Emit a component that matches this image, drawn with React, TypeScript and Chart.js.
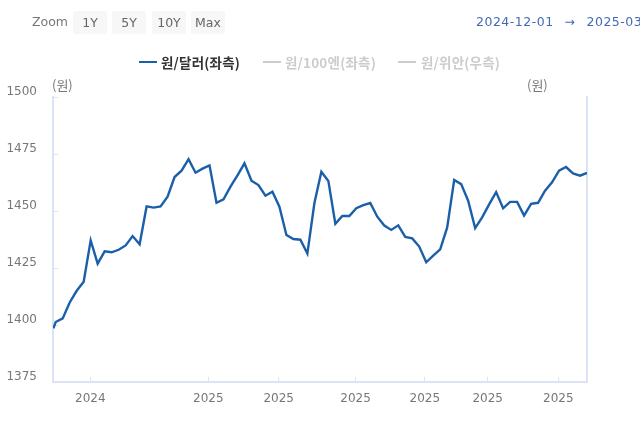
import { useEffect, useRef } from "react";
import Chart from "chart.js/auto";

const rangeButtons = ["1Y", "5Y", "10Y", "Max"];
const usdValues = [
  1398.5, 1401.3, 1402.9, 1409.9, 1415.0, 1419.0, 1437.1, 1426.9, 1432.3, 1431.9,
  1433.0, 1434.9, 1439.0, 1435.4, 1452.0, 1451.5, 1452.0, 1456.3, 1464.9, 1467.7,
  1472.7, 1466.8, 1468.6, 1470.0, 1453.6, 1455.1, 1460.7, 1465.6, 1470.9, 1463.3,
  1461.4, 1456.7, 1458.5, 1451.9, 1439.5, 1437.7, 1437.4, 1431.3, 1453.4, 1467.2,
  1463.2, 1444.4, 1447.8, 1447.8, 1451.2, 1452.6, 1453.5, 1447.5, 1443.6, 1441.7,
  1443.7, 1438.6, 1438.0, 1434.4, 1427.5, 1430.4, 1433.2, 1442.8, 1463.6, 1461.8,
  1454.5, 1442.5, 1447.2, 1452.9, 1458.3, 1451.2, 1454.0, 1454.0, 1448.0, 1453.1,
  1453.6, 1458.9, 1462.6, 1467.7, 1469.3, 1466.5, 1465.5, 1466.7,
];
// the first sample sits just under one step before the second one
const usdPositions = usdValues.map((_, i) => (i === 0 ? -0.34 : i - 1));
const xTickValues = [4.95, 21.83, 31.9, 42.9, 52.8, 61.8, 71.9];
const xTickLabels = ["2024", "2025", "2025", "2025", "2025", "2025", "2025"];

const LINE_BLUE = "#1b5fa9";
const AXIS_BLUE = "#dbe4f4";
const MUTED = "#cccccc";
const TEXT = "#777777";
const LATIN = '"DejaVu Sans", sans-serif';
const KOREAN = '"Noto Sans CJK KR", sans-serif';

const legendItems = [
  { label: "원/달러(좌측)", color: LINE_BLUE, text: "#333333", line: 139, left: 161 },
  { label: "원/100엔(좌측)", color: MUTED, text: MUTED, line: 263, left: 285 },
  { label: "원/위안(우측)", color: MUTED, text: MUTED, line: 398, left: 421 },
];

export default function App() {
  const canvasRef = useRef<HTMLCanvasElement | null>(null);

  useEffect(() => {
    const canvas = canvasRef.current;
    if (!canvas) return;

    const chart = new Chart(canvas, {
      type: "line",
      data: {
        datasets: [
          {
            label: "원/달러(좌측)",
            data: usdValues.map((y, i) => ({ x: usdPositions[i], y })),
            borderColor: LINE_BLUE,
            borderWidth: 2.4,
            pointRadius: 0,
            tension: 0,
          },
        ],
      },
      options: {
        animation: false,
        responsive: false,
        layout: { padding: { top: 97, right: 53, left: 0, bottom: 0 } },
        plugins: { legend: { display: false }, tooltip: { enabled: false } },
        scales: {
          x: {
            type: "linear",
            min: -0.39,
            max: 76,
            afterFit: (axis) => {
              axis.height = 44;
            },
            afterBuildTicks: (axis) => {
              axis.ticks = xTickValues.map((value) => ({ value }));
            },
            grid: { drawOnChartArea: false, tickLength: -5, color: AXIS_BLUE },
            border: { color: AXIS_BLUE, width: 2 },
            ticks: {
              autoSkip: false,
              maxRotation: 0,
              padding: 15,
              color: TEXT,
              font: { family: LATIN, size: 12 },
              callback: (_value, index) => xTickLabels[index],
            },
          },
          y: {
            min: 1375,
            max: 1500,
            afterFit: (axis) => {
              axis.width = 53;
            },
            grid: { drawOnChartArea: false, tickLength: -5, color: AXIS_BLUE },
            border: { color: AXIS_BLUE, width: 2 },
            ticks: {
              stepSize: 25,
              padding: 21,
              labelOffset: -5,
              color: TEXT,
              font: { family: LATIN, size: 12 },
              callback: (value) => String(value),
            },
          },
          yRight: {
            position: "right",
            min: 1375,
            max: 1500,
            afterFit: (axis) => {
              axis.width = 0;
            },
            grid: { display: false },
            border: { color: AXIS_BLUE, width: 2 },
            ticks: { display: false },
          },
        },
      },
    });

    return () => {
      chart.destroy();
    };
  }, []);

  const label = (left: number, top: number, extra = {}) => ({
    position: "absolute" as const,
    left,
    top,
    whiteSpace: "nowrap" as const,
    lineHeight: "20px",
    fontSize: 13,
    color: TEXT,
    ...extra,
  });

  return (
    <div style={{ position: "absolute", left: 0, top: 0, width: 640, height: 426, overflow: "hidden", background: "#fff" }}>
      <canvas ref={canvasRef} width={640} height={426} style={{ position: "absolute", left: 0, top: 0 }} />

      <span style={label(32, 12, { fontFamily: LATIN, fontSize: 12.5 })}>Zoom</span>
      {rangeButtons.map((text, i) => (
        <span
          key={text}
          style={label([73, 112, 152, 191][i], 11, {
            width: 34,
            height: 23,
            lineHeight: "23px",
            background: "#f7f7f7",
            borderRadius: 2,
            textAlign: "center",
            fontFamily: LATIN,
            fontSize: 12.5,
            color: "#666666",
          })}
        >
          {text}
        </span>
      ))}
      <span style={label(476, 12, { fontFamily: LATIN, color: "#4469b4", fontSize: 12.5, letterSpacing: 0.5, wordSpacing: 1 })}>
        2024-12-01 &nbsp;→&nbsp; 2025-03-01
      </span>

      {legendItems.map((item) => (
        <span key={item.label}>
          <span style={{ position: "absolute", left: item.line, top: 61, width: 18, height: 2, background: item.color }} />
          <span style={label(item.left, 52, { fontFamily: KOREAN, fontWeight: 700, color: item.text, fontSize: 13.5, letterSpacing: 0.2 })}>
            {item.label}
          </span>
        </span>
      ))}

      <span style={label(52, 75, { fontFamily: KOREAN })}>(원)</span>
      <span style={label(527, 75, { fontFamily: KOREAN })}>(원)</span>
    </div>
  );
}
